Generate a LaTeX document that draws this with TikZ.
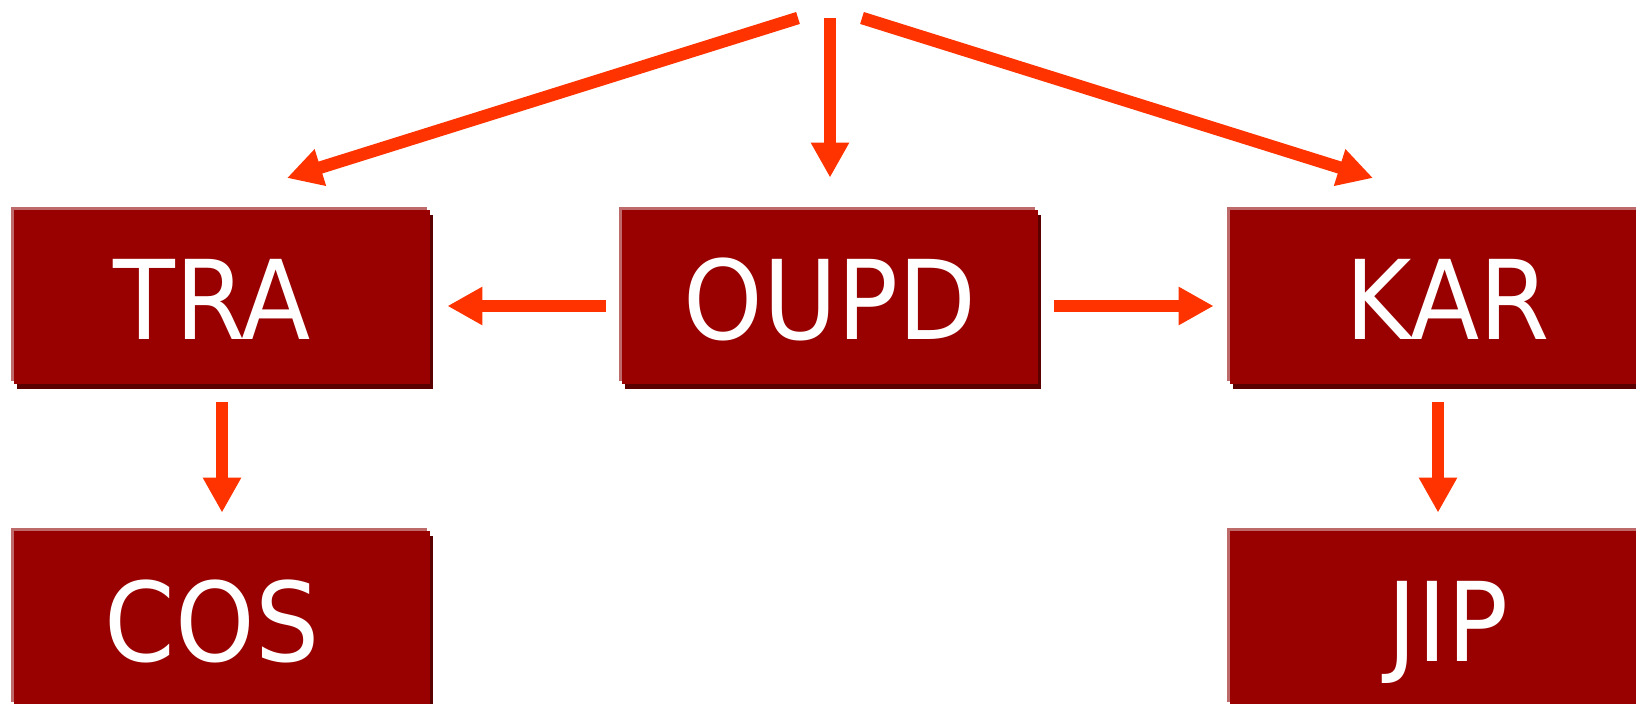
\documentclass[tikz,border=0pt]{standalone}
\usepackage{fontspec}
\setmainfont{DejaVu Sans}
\newfontfamily\blockfont[FakeStretch=0.92]{DejaVu Sans}
\usepackage{tikz}
\usetikzlibrary{arrows.meta}
\usetikzlibrary{shadows}

\definecolor{boxred}{HTML}{990000}
\definecolor{boxedge}{HTML}{BF6A6A}
\definecolor{boxshade}{HTML}{5A0000}
\definecolor{arrowred}{HTML}{FF3300}

\tikzset{
    block/.style = {fill=boxred, text=white, inner sep=0pt,
        minimum width=208pt, minimum height=87pt,
        text height=43pt, text depth=0pt,
        font=\blockfont\fontsize{55pt}{62pt}\selectfont,
        drop shadow={shadow xshift=1.5pt, shadow yshift=-2.5pt, fill=boxshade, opacity=1},
        general shadow={shadow xshift=-1.5pt, shadow yshift=1.5pt, fill=boxedge}},
    link/.style = {color=arrowred, line width=6.25pt,
        -{Triangle[length=17.5pt, width=18pt]}}
}

\begin{document}
\begin{tikzpicture}[x=0.5pt, y=-0.5pt]
    \useasboundingbox (0, 0) rectangle (1636, 704);

    % draw boxes (text of the outer columns sits a little off centre)
    \node[block] (tra)  at (222, 297)  {\kern-10pt TRA};
    \node[block] (oupd) at (830, 297)  {OUPD};
    \node[block] (kar)  at (1438, 297) {KAR\kern-10pt};
    \node[block] (cos)  at (222, 618)  {\kern-10pt COS};
    \node[block] (jip)  at (1438, 618) {JIP\kern-10pt};

    % free ends of the top arrows
    \coordinate (srcl) at (798, 18);
    \coordinate (srcm) at (830, 18);
    \coordinate (srcr) at (862, 18);
    \coordinate (tipl) at (287, 178);
    \coordinate (tipr) at (1373, 178);

    % draw top arrows
    \draw[link] (srcl) -- (tipl);
    \draw[link, shorten >=16pt] (srcm) -- (oupd.north);
    \draw[link] (srcr) -- (tipr);

    % draw side arrows
    \draw[link, shorten <=8pt, shorten >=8.5pt] ([yshift=-4.5pt]oupd.west) -- ([yshift=-4.5pt]tra.east);
    \draw[link, shorten <=8pt, shorten >=8pt] ([yshift=-4.5pt]oupd.east) -- ([yshift=-4.5pt]kar.west);

    % draw down arrows
    \draw[link, shorten <=9pt, shorten >=9pt] (tra) -- (cos);
    \draw[link, shorten <=9pt, shorten >=9pt] (kar) -- (jip);
\end{tikzpicture}
\end{document}
